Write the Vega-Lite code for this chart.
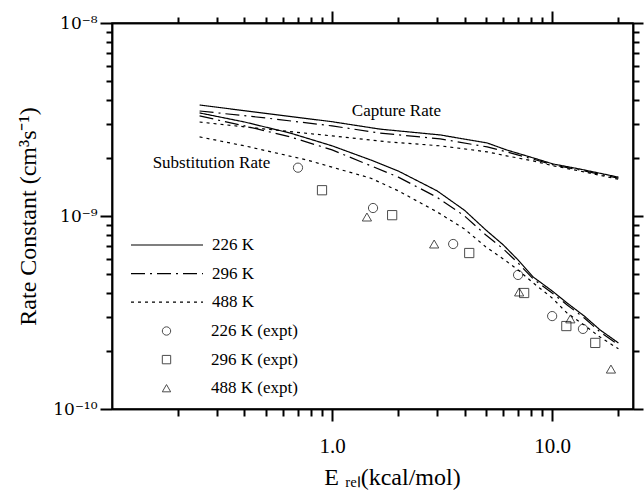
{
  "$schema": "https://vega.github.io/schema/vega-lite/v6.json",
  "width": 521,
  "height": 386,
  "autosize": {"type": "none"},
  "padding": {"left": 112, "top": 23, "right": 11, "bottom": 89},
  "background": "white",
  "config": {
    "view": {"stroke": "black", "strokeWidth": 1.5},
    "font": "Liberation Serif",
    "axis": {"grid": false, "ticks": true, "tickColor": "#000000", "tickWidth": 2, "tickRound": true, "domainColor": "black", "domainWidth": 1.5, "labelColor": "black", "titleColor": "black", "labelFont": "Liberation Serif", "titleFont": "Liberation Serif", "titleFontWeight": "normal", "labelFlush": false, "labelOverlap": false}
  },
  "datasets": {
    "curves": [
      {"E": 0.25, "k": 3.76e-9, "T": "226 K", "rate": "capture"},
      {"E": 0.5, "k": 3.40e-9, "T": "226 K", "rate": "capture"},
      {"E": 1, "k": 3.08e-9, "T": "226 K", "rate": "capture"},
      {"E": 1.65, "k": 2.82e-9, "T": "226 K", "rate": "capture"},
      {"E": 3.1, "k": 2.63e-9, "T": "226 K", "rate": "capture"},
      {"E": 5.07, "k": 2.39e-9, "T": "226 K", "rate": "capture"},
      {"E": 6.2, "k": 2.20e-9, "T": "226 K", "rate": "capture"},
      {"E": 8.2, "k": 2.00e-9, "T": "226 K", "rate": "capture"},
      {"E": 10.1, "k": 1.86e-9, "T": "226 K", "rate": "capture"},
      {"E": 13.4, "k": 1.75e-9, "T": "226 K", "rate": "capture"},
      {"E": 20, "k": 1.59e-9, "T": "226 K", "rate": "capture"},
      {"E": 0.25, "k": 3.50e-9, "T": "296 K", "rate": "capture"},
      {"E": 0.5, "k": 3.22e-9, "T": "296 K", "rate": "capture"},
      {"E": 1, "k": 2.93e-9, "T": "296 K", "rate": "capture"},
      {"E": 1.65, "k": 2.69e-9, "T": "296 K", "rate": "capture"},
      {"E": 3.1, "k": 2.51e-9, "T": "296 K", "rate": "capture"},
      {"E": 5.07, "k": 2.28e-9, "T": "296 K", "rate": "capture"},
      {"E": 6.2, "k": 2.15e-9, "T": "296 K", "rate": "capture"},
      {"E": 8.2, "k": 1.97e-9, "T": "296 K", "rate": "capture"},
      {"E": 10.1, "k": 1.84e-9, "T": "296 K", "rate": "capture"},
      {"E": 13.4, "k": 1.73e-9, "T": "296 K", "rate": "capture"},
      {"E": 20, "k": 1.57e-9, "T": "296 K", "rate": "capture"},
      {"E": 0.25, "k": 3.07e-9, "T": "488 K", "rate": "capture"},
      {"E": 0.5, "k": 2.82e-9, "T": "488 K", "rate": "capture"},
      {"E": 1, "k": 2.60e-9, "T": "488 K", "rate": "capture"},
      {"E": 1.8, "k": 2.42e-9, "T": "488 K", "rate": "capture"},
      {"E": 3.1, "k": 2.31e-9, "T": "488 K", "rate": "capture"},
      {"E": 5.07, "k": 2.15e-9, "T": "488 K", "rate": "capture"},
      {"E": 6.2, "k": 2.05e-9, "T": "488 K", "rate": "capture"},
      {"E": 8.2, "k": 1.93e-9, "T": "488 K", "rate": "capture"},
      {"E": 10.1, "k": 1.82e-9, "T": "488 K", "rate": "capture"},
      {"E": 13.4, "k": 1.71e-9, "T": "488 K", "rate": "capture"},
      {"E": 20, "k": 1.55e-9, "T": "488 K", "rate": "capture"},
      {"E": 0.25, "k": 3.42e-9, "T": "226 K", "rate": "substitution"},
      {"E": 0.4, "k": 3.07e-9, "T": "226 K", "rate": "substitution"},
      {"E": 0.645, "k": 2.69e-9, "T": "226 K", "rate": "substitution"},
      {"E": 1, "k": 2.31e-9, "T": "226 K", "rate": "substitution"},
      {"E": 1.5, "k": 1.95e-9, "T": "226 K", "rate": "substitution"},
      {"E": 2, "k": 1.71e-9, "T": "226 K", "rate": "substitution"},
      {"E": 3, "k": 1.35e-9, "T": "226 K", "rate": "substitution"},
      {"E": 4, "k": 1.07e-9, "T": "226 K", "rate": "substitution"},
      {"E": 5, "k": 8.46e-10, "T": "226 K", "rate": "substitution"},
      {"E": 6, "k": 7.08e-10, "T": "226 K", "rate": "substitution"},
      {"E": 7, "k": 5.92e-10, "T": "226 K", "rate": "substitution"},
      {"E": 8.2, "k": 4.83e-10, "T": "226 K", "rate": "substitution"},
      {"E": 10, "k": 4.09e-10, "T": "226 K", "rate": "substitution"},
      {"E": 11.7, "k": 3.54e-10, "T": "226 K", "rate": "substitution"},
      {"E": 14, "k": 3.03e-10, "T": "226 K", "rate": "substitution"},
      {"E": 16.5, "k": 2.57e-10, "T": "226 K", "rate": "substitution"},
      {"E": 20, "k": 2.20e-10, "T": "226 K", "rate": "substitution"},
      {"E": 0.25, "k": 3.30e-9, "T": "296 K", "rate": "substitution"},
      {"E": 0.4, "k": 2.93e-9, "T": "296 K", "rate": "substitution"},
      {"E": 0.645, "k": 2.57e-9, "T": "296 K", "rate": "substitution"},
      {"E": 1, "k": 2.20e-9, "T": "296 K", "rate": "substitution"},
      {"E": 1.5, "k": 1.82e-9, "T": "296 K", "rate": "substitution"},
      {"E": 2, "k": 1.59e-9, "T": "296 K", "rate": "substitution"},
      {"E": 3, "k": 1.25e-9, "T": "296 K", "rate": "substitution"},
      {"E": 4, "k": 1.00e-9, "T": "296 K", "rate": "substitution"},
      {"E": 5, "k": 7.97e-10, "T": "296 K", "rate": "substitution"},
      {"E": 6, "k": 6.75e-10, "T": "296 K", "rate": "substitution"},
      {"E": 7, "k": 5.71e-10, "T": "296 K", "rate": "substitution"},
      {"E": 8.2, "k": 4.72e-10, "T": "296 K", "rate": "substitution"},
      {"E": 10, "k": 3.99e-10, "T": "296 K", "rate": "substitution"},
      {"E": 11.7, "k": 3.46e-10, "T": "296 K", "rate": "substitution"},
      {"E": 14, "k": 2.96e-10, "T": "296 K", "rate": "substitution"},
      {"E": 16.5, "k": 2.51e-10, "T": "296 K", "rate": "substitution"},
      {"E": 20, "k": 2.15e-10, "T": "296 K", "rate": "substitution"},
      {"E": 0.25, "k": 2.57e-9, "T": "488 K", "rate": "substitution"},
      {"E": 0.4, "k": 2.31e-9, "T": "488 K", "rate": "substitution"},
      {"E": 0.77, "k": 1.95e-9, "T": "488 K", "rate": "substitution"},
      {"E": 1, "k": 1.79e-9, "T": "488 K", "rate": "substitution"},
      {"E": 1.5, "k": 1.57e-9, "T": "488 K", "rate": "substitution"},
      {"E": 2, "k": 1.35e-9, "T": "488 K", "rate": "substitution"},
      {"E": 3, "k": 1.05e-9, "T": "488 K", "rate": "substitution"},
      {"E": 4, "k": 8.56e-10, "T": "488 K", "rate": "substitution"},
      {"E": 5, "k": 6.91e-10, "T": "488 K", "rate": "substitution"},
      {"E": 6, "k": 5.99e-10, "T": "488 K", "rate": "substitution"},
      {"E": 7, "k": 5.25e-10, "T": "488 K", "rate": "substitution"},
      {"E": 8.2, "k": 4.50e-10, "T": "488 K", "rate": "substitution"},
      {"E": 10, "k": 3.76e-10, "T": "488 K", "rate": "substitution"},
      {"E": 11.7, "k": 3.14e-10, "T": "488 K", "rate": "substitution"},
      {"E": 14, "k": 2.72e-10, "T": "488 K", "rate": "substitution"},
      {"E": 16.5, "k": 2.36e-10, "T": "488 K", "rate": "substitution"},
      {"E": 20, "k": 2.05e-10, "T": "488 K", "rate": "substitution"}
    ],
    "expt": [
      {"E": 0.70, "k": 1.78e-9, "series": "226 K (expt)"},
      {"E": 1.535, "k": 1.10e-9, "series": "226 K (expt)"},
      {"E": 3.55, "k": 7.16e-10, "series": "226 K (expt)"},
      {"E": 7.0, "k": 4.95e-10, "series": "226 K (expt)"},
      {"E": 10.0, "k": 3.03e-10, "series": "226 K (expt)"},
      {"E": 13.8, "k": 2.60e-10, "series": "226 K (expt)"},
      {"E": 0.90, "k": 1.36e-9, "series": "296 K (expt)"},
      {"E": 1.875, "k": 1.01e-9, "series": "296 K (expt)"},
      {"E": 4.2, "k": 6.43e-10, "series": "296 K (expt)"},
      {"E": 7.46, "k": 3.99e-10, "series": "296 K (expt)"},
      {"E": 11.6, "k": 2.69e-10, "series": "296 K (expt)"},
      {"E": 15.7, "k": 2.20e-10, "series": "296 K (expt)"},
      {"E": 1.44, "k": 9.88e-10, "series": "488 K (expt)"},
      {"E": 2.91, "k": 7.16e-10, "series": "488 K (expt)"},
      {"E": 7.08, "k": 4.04e-10, "series": "488 K (expt)"},
      {"E": 12.1, "k": 2.93e-10, "series": "488 K (expt)"},
      {"E": 18.5, "k": 1.61e-10, "series": "488 K (expt)"}
    ],
    "notes": [
      {"E": 1.96, "k": 3.50e-9, "label": "Capture Rate"},
      {"E": 0.283, "k": 1.88e-9, "label": "Substitution Rate"}
    ]
  },
  "layer": [
    {
      "data": {"name": "curves"},
      "mark": {"type": "line", "color": "black", "strokeWidth": 1.2},
      "encoding": {
        "x": {
          "field": "E", "type": "quantitative",
          "scale": {"type": "log", "domain": [0.1, 23.3], "nice": false},
          "axis": {
            "orient": "bottom",
            "values": [1, 10],
            "labelExpr": "datum.value == 1 ? '1.0' : '10.0'",
            "ticks": true, "tickSize": 12,
            "labelFontSize": 21,
            "labelPadding": 14,
            "title": "E ᵣₑₗ(kcal/mol)",
            "titleFontSize": 24,
            "titlePadding": 9,
            "titleX": 280
          }
        },
        "y": {
          "field": "k", "type": "quantitative",
          "scale": {"type": "log", "domain": [1e-10, 1e-8], "nice": false},
          "axis": {
            "orient": "left",
            "values": [1e-10, 1e-9, 1e-8],
            "labelExpr": "datum.value > 0.95e-8 ? '10⁻⁸' : datum.value > 0.95e-9 ? '10⁻⁹' : '10⁻¹⁰'",
            "ticks": true, "tickSize": 12,
            "labelFont": "DejaVu Serif",
            "labelFontSize": 17,
            "labelPadding": 3,
            "title": "Rate Constant (cm³s⁻¹)",
            "titleFontSize": 24,
            "titlePadding": 12
          }
        },
        "strokeDash": {
          "field": "T", "type": "nominal",
          "scale": {"domain": ["226 K", "296 K", "488 K"], "range": [[1, 0], [14, 5, 2, 5], [3, 4]]},
          "legend": {
            "orient": "none", "legendX": 18, "legendY": 212, "title": null,
            "symbolType": "stroke", "symbolSize": 5184, "symbolStrokeColor": "black", "symbolStrokeWidth": 1.2,
            "labelFont": "Liberation Serif", "labelFontSize": 17, "labelColor": "black", "labelOffset": 8,
            "clipHeight": 20, "rowPadding": 8.6, "padding": 0
          }
        },
        "detail": {"field": "rate", "type": "nominal"}
      }
    },
    {
      "data": {"name": "expt"},
      "mark": {"type": "point", "filled": false, "color": "black", "size": 85, "strokeWidth": 1},
      "encoding": {
        "x": {
          "field": "E", "type": "quantitative",
          "axis": {"orient": "bottom", "title": null, "labels": false, "ticks": true, "tickSize": 7,
                   "values": [0.2, 0.3, 0.4, 0.5, 0.6, 0.7, 0.8, 0.9, 2, 3, 4, 5, 6, 7, 8, 9, 20]}
        },
        "y": {
          "field": "k", "type": "quantitative",
          "axis": {"orient": "left", "title": null, "labels": false, "ticks": true, "tickSize": 6,
                   "values": [2e-10, 3e-10, 4e-10, 5e-10, 6e-10, 7e-10, 8e-10, 9e-10, 2e-9, 3e-9, 4e-9, 5e-9, 6e-9, 7e-9, 8e-9, 9e-9]}
        },
        "shape": {
          "field": "series", "type": "nominal",
          "scale": {"domain": ["226 K (expt)", "296 K (expt)", "488 K (expt)"], "range": ["circle", "square", "triangle-up"]},
          "legend": {
            "orient": "none", "legendX": 18, "legendY": 298, "title": null,
            "symbolSize": 70, "symbolStrokeColor": "black", "symbolFillColor": "transparent", "symbolStrokeWidth": 1,
            "symbolOffset": 28,
            "labelFont": "Liberation Serif", "labelFontSize": 17, "labelColor": "black", "labelOffset": 36,
            "clipHeight": 20, "rowPadding": 8.6, "padding": 0
          }
        }
      }
    },
    {
      "data": {"name": "notes"},
      "transform": [{"filter": "datum.label == 'Capture Rate'"}],
      "mark": {"type": "text", "font": "Liberation Serif", "fontSize": 17, "color": "black", "align": "center", "baseline": "middle"},
      "encoding": {
        "x": {
          "field": "E", "type": "quantitative",
          "axis": {"orient": "top", "title": null, "labels": false, "ticks": true, "tickSize": 12, "values": [1, 10]}
        },
        "y": {
          "field": "k", "type": "quantitative",
          "axis": {"orient": "right", "title": null, "labels": false, "ticks": true, "tickSize": 10, "values": [1e-10, 1e-9, 1e-8]}
        },
        "text": {"field": "label", "type": "nominal"}
      }
    },
    {
      "data": {"name": "notes"},
      "transform": [{"filter": "datum.label == 'Substitution Rate'"}],
      "mark": {"type": "text", "font": "Liberation Serif", "fontSize": 17, "color": "black", "align": "center", "baseline": "middle"},
      "encoding": {
        "x": {
          "field": "E", "type": "quantitative",
          "axis": {"orient": "top", "title": null, "labels": false, "ticks": true, "tickSize": 6,
                   "values": [0.2, 0.3, 0.4, 0.5, 0.6, 0.7, 0.8, 0.9, 2, 3, 4, 5, 6, 7, 8, 9, 20]}
        },
        "y": {
          "field": "k", "type": "quantitative",
          "axis": {"orient": "right", "title": null, "labels": false, "ticks": true, "tickSize": 6,
                   "values": [2e-10, 3e-10, 4e-10, 5e-10, 6e-10, 7e-10, 8e-10, 9e-10, 2e-9, 3e-9, 4e-9, 5e-9, 6e-9, 7e-9, 8e-9, 9e-9]}
        },
        "text": {"field": "label", "type": "nominal"}
      }
    }
  ],
  "resolve": {"axis": {"x": "independent", "y": "independent"}}
}
